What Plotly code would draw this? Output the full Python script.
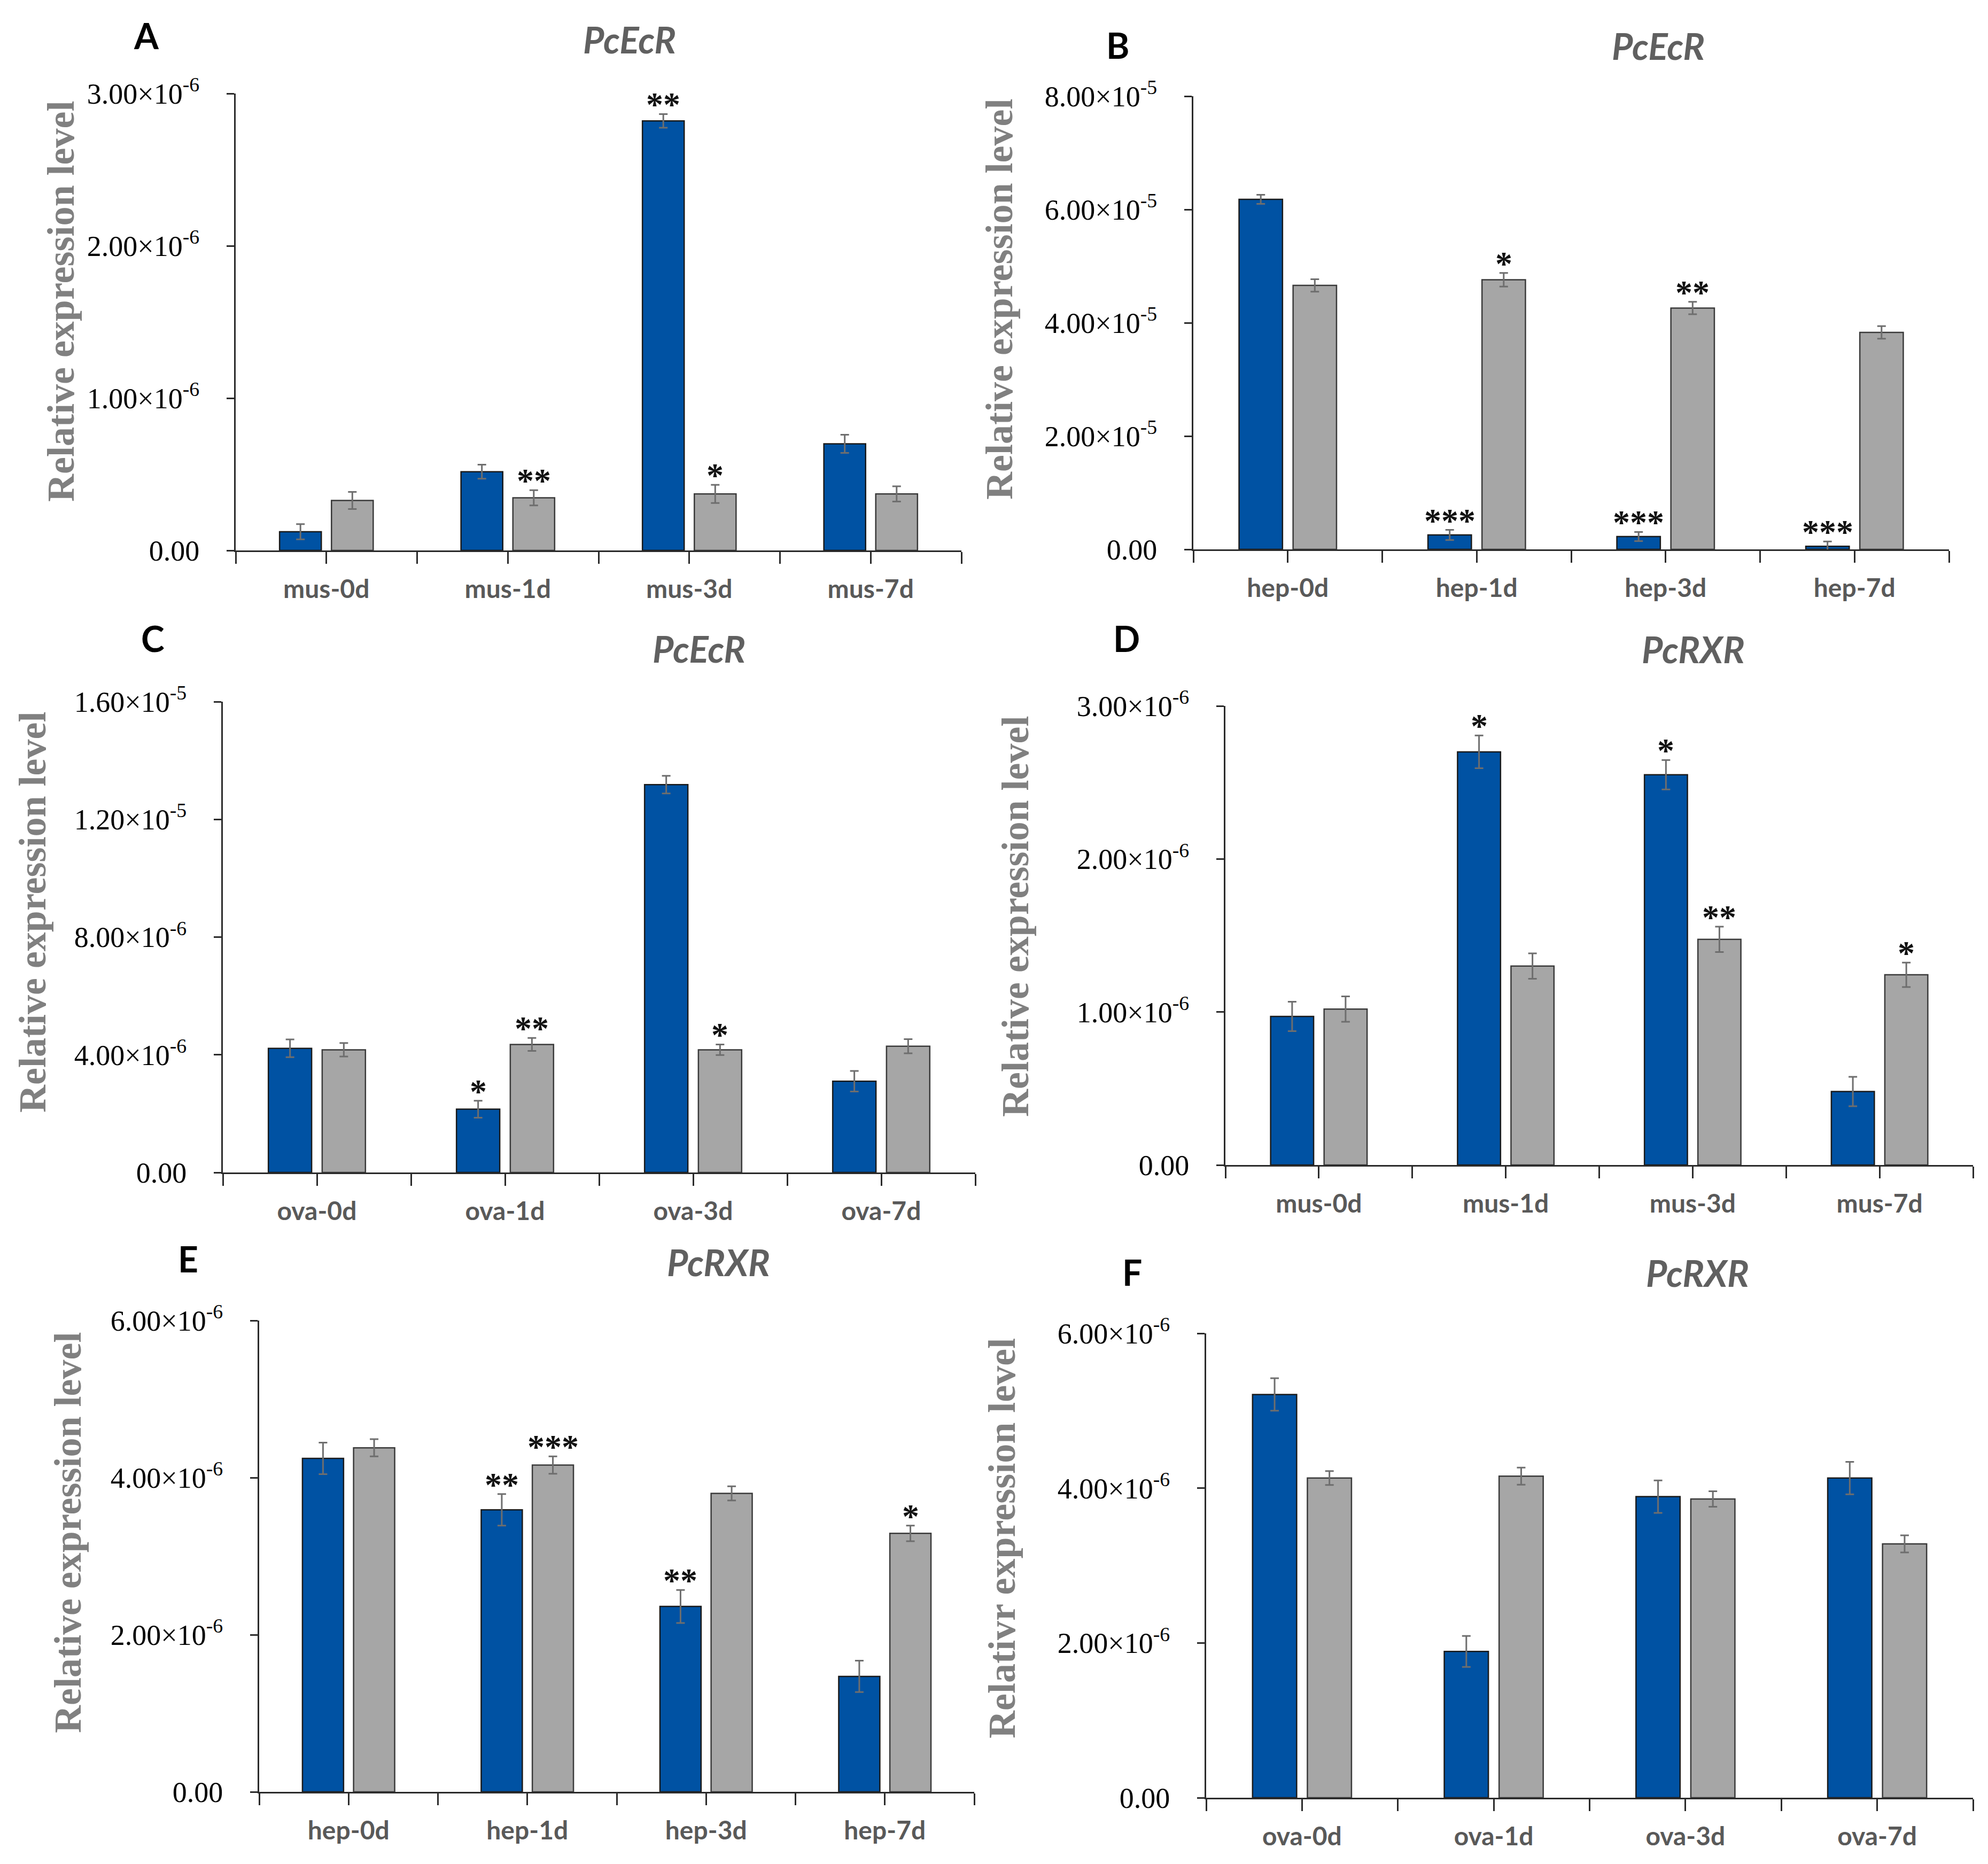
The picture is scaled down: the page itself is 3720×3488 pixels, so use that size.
import plotly.graph_objects as go

W, H = 3720, 3488

# ---------------- data ----------------
# Panel A  PcEcR, muscle
A_categories = ["mus-0d", "mus-1d", "mus-3d", "mus-7d"]
A_blue = [0.123e-6, 0.517e-6, 2.82e-6, 0.70e-6]
A_blue_err = [0.05e-6, 0.046e-6, 0.045e-6, 0.06e-6]
A_gray = [0.328e-6, 0.346e-6, 0.371e-6, 0.371e-6]
A_gray_err = [0.056e-6, 0.05e-6, 0.06e-6, 0.05e-6]
A_blue_sig = ["", "", "**", ""]
A_gray_sig = ["", "**", "*", ""]
A_tickvals = [0, 1e-6, 2e-6, 3e-6]
A_ticktext = ["0.00", "1.00×10<sup>-6</sup>", "2.00×10<sup>-6</sup>", "3.00×10<sup>-6</sup>"]

# Panel B  PcEcR, hepatopancreas
B_categories = ["hep-0d", "hep-1d", "hep-3d", "hep-7d"]
B_blue = [6.18e-5, 0.254e-5, 0.227e-5, 0.055e-5]
B_blue_err = [0.08e-5, 0.09e-5, 0.08e-5, 0.085e-5]
B_gray = [4.66e-5, 4.76e-5, 4.26e-5, 3.83e-5]
B_gray_err = [0.11e-5, 0.12e-5, 0.11e-5, 0.11e-5]
B_blue_sig = ["", "***", "***", "***"]
B_gray_sig = ["", "*", "**", ""]
B_tickvals = [0, 2e-5, 4e-5, 6e-5, 8e-5]
B_ticktext = ["0.00", "2.00×10<sup>-5</sup>", "4.00×10<sup>-5</sup>", "6.00×10<sup>-5</sup>", "8.00×10<sup>-5</sup>"]

# Panel C  PcEcR, ovary
C_categories = ["ova-0d", "ova-1d", "ova-3d", "ova-7d"]
C_blue = [4.22e-6, 2.15e-6, 13.18e-6, 3.10e-6]
C_blue_err = [0.30e-6, 0.29e-6, 0.30e-6, 0.35e-6]
C_gray = [4.17e-6, 4.35e-6, 4.17e-6, 4.29e-6]
C_gray_err = [0.23e-6, 0.22e-6, 0.18e-6, 0.24e-6]
C_blue_sig = ["", "*", "", ""]
C_gray_sig = ["", "**", "*", ""]
C_tickvals = [0, 4e-6, 8e-6, 1.2e-5, 1.6e-5]
C_ticktext = ["0.00", "4.00×10<sup>-6</sup>", "8.00×10<sup>-6</sup>", "1.20×10<sup>-5</sup>", "1.60×10<sup>-5</sup>"]

# Panel D  PcRXR, muscle
D_categories = ["mus-0d", "mus-1d", "mus-3d", "mus-7d"]
D_blue = [0.971e-6, 2.70e-6, 2.55e-6, 0.48e-6]
D_blue_err = [0.096e-6, 0.107e-6, 0.096e-6, 0.096e-6]
D_gray = [1.019e-6, 1.30e-6, 1.475e-6, 1.243e-6]
D_gray_err = [0.083e-6, 0.083e-6, 0.083e-6, 0.08e-6]
D_blue_sig = ["", "*", "*", ""]
D_gray_sig = ["", "", "**", "*"]
D_tickvals = [0, 1e-6, 2e-6, 3e-6]
D_ticktext = ["0.00", "1.00×10<sup>-6</sup>", "2.00×10<sup>-6</sup>", "3.00×10<sup>-6</sup>"]

# Panel E  PcRXR, hepatopancreas
E_categories = ["hep-0d", "hep-1d", "hep-3d", "hep-7d"]
E_blue = [4.245e-6, 3.59e-6, 2.36e-6, 1.47e-6]
E_blue_err = [0.20e-6, 0.20e-6, 0.21e-6, 0.20e-6]
E_gray = [4.38e-6, 4.16e-6, 3.80e-6, 3.29e-6]
E_gray_err = [0.11e-6, 0.11e-6, 0.09e-6, 0.10e-6]
E_blue_sig = ["", "**", "**", ""]
E_gray_sig = ["", "***", "", "*"]
E_tickvals = [0, 2e-6, 4e-6, 6e-6]
E_ticktext = ["0.00", "2.00×10<sup>-6</sup>", "4.00×10<sup>-6</sup>", "6.00×10<sup>-6</sup>"]

# Panel F  PcRXR, ovary
F_categories = ["ova-0d", "ova-1d", "ova-3d", "ova-7d"]
F_blue = [5.21e-6, 1.89e-6, 3.89e-6, 4.13e-6]
F_blue_err = [0.21e-6, 0.20e-6, 0.21e-6, 0.21e-6]
F_gray = [4.13e-6, 4.155e-6, 3.86e-6, 3.28e-6]
F_gray_err = [0.09e-6, 0.11e-6, 0.10e-6, 0.11e-6]
F_blue_sig = ["", "", "", ""]
F_gray_sig = ["", "", "", ""]
F_tickvals = [0, 2e-6, 4e-6, 6e-6]
F_ticktext = ["0.00", "2.00×10<sup>-6</sup>", "4.00×10<sup>-6</sup>", "6.00×10<sup>-6</sup>"]

panel_letters = ["A", "B", "C", "D", "E", "F"]
panel_titles = ["PcEcR", "PcEcR", "PcEcR", "PcRXR", "PcRXR", "PcRXR"]
y_titles = ["Relative expression level"] * 5 + ["Relativr expression level"]

# ---------------- layout geometry (pixels in the 3720x3488 canvas) ----------------
# (x_left, x_right, y_zero, y_top) of each plot area
geom = [
    (433, 1791, 1022, 167),
    (2225, 3639, 1020, 172),
    (409, 1817, 2186, 1305),
    (2285, 3684, 2172, 1313),
    (477, 1815, 3345, 2463),
    (2249, 3684, 3356, 2487),
]
letter_pos = [(266, 58), (2083, 76), (278, 1186), (2100, 1186), (344, 2347), (2110, 2372)]
title_pos = [(1170, 66), (3095, 78), (1300, 1205), (3160, 1207), (1336, 2353), (3168, 2373)]
ytitle_pos = [(106, 556), (1862, 551), (53, 1699), (1892, 1706), (119, 2860), (1867, 2870)]

panels = [
    (A_categories, A_blue, A_blue_err, A_gray, A_gray_err, A_blue_sig, A_gray_sig, A_tickvals, A_ticktext),
    (B_categories, B_blue, B_blue_err, B_gray, B_gray_err, B_blue_sig, B_gray_sig, B_tickvals, B_ticktext),
    (C_categories, C_blue, C_blue_err, C_gray, C_gray_err, C_blue_sig, C_gray_sig, C_tickvals, C_ticktext),
    (D_categories, D_blue, D_blue_err, D_gray, D_gray_err, D_blue_sig, D_gray_sig, D_tickvals, D_ticktext),
    (E_categories, E_blue, E_blue_err, E_gray, E_gray_err, E_blue_sig, E_gray_sig, E_tickvals, E_ticktext),
    (F_categories, F_blue, F_blue_err, F_gray, F_gray_err, F_blue_sig, F_gray_sig, F_tickvals, F_ticktext),
]

BLUE = "#0052A3"
GRAY = "#A6A6A6"
BAR_W = 0.23
HALF_GAP = 0.028
AXIS_COLOR = "#2b2b2b"
SERIF = "Liberation Serif"
SANS = "Lato"

fig = go.Figure()
annotations = []
layout_axes = {}

for k, (cats, blue, blue_err, gray, gray_err, bsig, gsig, tv, tt) in enumerate(panels):
    n = k + 1
    xa = "x" if n == 1 else f"x{n}"
    ya = "y" if n == 1 else f"y{n}"
    xpos = list(range(len(cats)))

    fig.add_trace(go.Bar(
        x=xpos, y=blue, xaxis=xa, yaxis=ya,
        width=BAR_W, offset=-(HALF_GAP + BAR_W),
        marker=dict(color=BLUE, line=dict(color="#1a1a1a", width=2.5)),
        error_y=dict(type="data", array=blue_err, color="#6e6e6e", thickness=3, width=8),
        showlegend=False,
    ))
    fig.add_trace(go.Bar(
        x=xpos, y=gray, xaxis=xa, yaxis=ya,
        width=BAR_W, offset=HALF_GAP,
        marker=dict(color=GRAY, line=dict(color="#3a3a3a", width=2.5)),
        error_y=dict(type="data", array=gray_err, color="#6e6e6e", thickness=3, width=8),
        showlegend=False,
    ))

    # significance marks
    for i in xpos:
        for sig, vals, errs, sgn in ((bsig, blue, blue_err, -1), (gsig, gray, gray_err, 1)):
            if sig[i]:
                annotations.append(dict(
                    x=i + sgn * (HALF_GAP + BAR_W / 2), y=vals[i] + errs[i],
                    xref=xa, yref=ya, text=sig[i], showarrow=False,
                    xanchor="center", yanchor="bottom", yshift=-20,
                    font=dict(family=SERIF, size=64, color="#111111", weight="bold"),
                ))

    x0, x1, yz, yt = geom[k]
    xdom = [x0 / W, x1 / W]
    ydom = [1 - yz / H, 1 - yt / H]

    xtickvals = []
    xticktext = []
    for i, c in enumerate(cats):
        xtickvals += [i - 0.5, i]
        xticktext += ["", c]
    xtickvals.append(len(cats) - 0.5)
    xticktext.append("")

    layout_axes["xaxis" if n == 1 else f"xaxis{n}"] = dict(
        domain=xdom, anchor=ya, range=[-0.5, len(cats) - 0.5],
        tickmode="array", tickvals=xtickvals, ticktext=xticktext,
        showline=True, linecolor=AXIS_COLOR, linewidth=3,
        ticks="outside", ticklen=22, tickwidth=3, tickcolor=AXIS_COLOR,
        tickfont=dict(family=SANS, size=48, color="#595959", weight="bold"),
        ticklabelstandoff=6, showgrid=False, zeroline=False, fixedrange=True,
        automargin=False,
    )
    layout_axes["yaxis" if n == 1 else f"yaxis{n}"] = dict(
        domain=ydom, anchor=xa, range=[tv[0], tv[-1]],
        tickmode="array", tickvals=tv, ticktext=tt,
        showline=True, linecolor=AXIS_COLOR, linewidth=3,
        ticks="outside", ticklen=14, tickwidth=3, tickcolor=AXIS_COLOR,
        tickfont=dict(family=SERIF, size=54, color="#000000"),
        ticklabelstandoff=40, showgrid=False, zeroline=False, fixedrange=True,
        automargin=False,
    )

    lx, ly = letter_pos[k]
    annotations.append(dict(x=lx / W, y=1 - ly / H, xref="paper", yref="paper",
                            text=panel_letters[k], showarrow=False,
                            xanchor="center", yanchor="middle",
                            font=dict(family=SANS, size=66, color="#000000", weight="bold")))
    tx, ty = title_pos[k]
    annotations.append(dict(x=tx / W, y=1 - ty / H, xref="paper", yref="paper",
                            text=panel_titles[k], showarrow=False,
                            xanchor="center", yanchor="middle",
                            font=dict(family=SANS, size=68, color="#606060",
                                      weight="bold", style="italic")))
    yx, yy = ytitle_pos[k]
    annotations.append(dict(x=yx / W, y=1 - yy / H, xref="paper", yref="paper",
                            text=y_titles[k], showarrow=False, textangle=-90,
                            xanchor="center", yanchor="middle",
                            font=dict(family=SERIF, size=72, color="#808080", weight="bold")))

fig.update_layout(
    width=W, height=H,
    margin=dict(l=0, r=0, t=0, b=0, autoexpand=False),
    paper_bgcolor="white", plot_bgcolor="white",
    barmode="overlay",
    showlegend=False,
    annotations=annotations,
    **layout_axes,
)

fig.write_html("out.html")
